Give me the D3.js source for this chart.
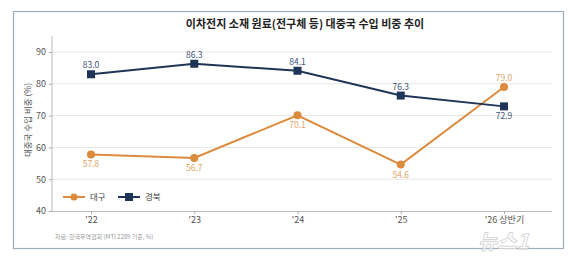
<!DOCTYPE html>
<html>
<head>
<meta charset="utf-8">
<script src="https://cdn.jsdelivr.net/npm/d3@7"></script>
<style>
  body { margin: 0; background: #fff; }
  svg { display: block; font-family: 'Noto Sans CJK KR', 'Noto Sans', sans-serif; }
</style>
</head>
<body>
<div class="chart"></div>
<script>
const years = ["'22", "'23", "'24", "'25", "'26 상반기"];
const daegu = [57.8, 56.7, 70.1, 54.6, 79.0];
const gyeongbuk = [83.0, 86.3, 84.1, 76.3, 72.9];
const yTicks = [40, 50, 60, 70, 80, 90];

const width = 573;
const height = 257;

const svg = d3.select('.chart')
    .append('svg')
    .attr('width', width)
    .attr('height', height);

// frame
svg.append('rect')
    .attr('x', 13.5)
    .attr('y', 11.5)
    .attr('width', 550)
    .attr('height', 237)
    .attr('fill', '#fff')
    .attr('stroke', '#9aabbd')
    .attr('stroke-width', 1.2);

// watermark, drawn first so it sits behind the chart
svg.append('text')
    .attr('x', 478)
    .attr('y', 249)
    .style('font-size', '21px')
    .style('font-weight', 'bold')
    .style('font-style', 'italic')
    .attr('fill', 'rgba(255,255,255,0.6)')
    .attr('stroke', '#cfcfcf')
    .attr('stroke-width', 0.8)
    .text('뉴스1');

svg.append('text')
    .attr('x', 305)
    .attr('y', 28)
    .attr('text-anchor', 'middle')
    .style('font-size', '11px')
    .style('font-weight', 'bold')
    .attr('fill', '#222')
    .text('이차전지 소재 원료(전구체 등) 대중국 수입 비중 추이');

const x = d3.scalePoint()
    .domain(years)
    .range([91, 504]);

const y = d3.scaleLinear()
    .domain([40, 90])
    .range([211, 52]);

// gridlines
svg.append('g')
    .selectAll('line')
    .data(yTicks.slice(1))
    .enter()
    .append('line')
    .attr('x1', 52)
    .attr('x2', 552)
    .attr('y1', d => y(d))
    .attr('y2', d => y(d))
    .attr('stroke', '#e6e6e6')
    .attr('stroke-width', 1);

const yAxis = svg.append('g')
    .attr('transform', 'translate(52,0)')
    .call(d3.axisLeft(y).tickValues(yTicks).tickSize(3).tickPadding(3));
yAxis.select('.domain').remove();
svg.append('line')
    .attr('x1', 52).attr('x2', 52)
    .attr('y1', 36).attr('y2', 211)
    .attr('stroke', '#bbb');

const xAxis = svg.append('g')
    .attr('transform', 'translate(0,211)')
    .call(d3.axisBottom(x).tickSize(3).tickPadding(3));
xAxis.select('.domain').attr('d', 'M52,0.5H552').attr('stroke', '#bbb');

svg.selectAll('.tick line').attr('stroke', '#aaa');
svg.selectAll('.tick text')
    .attr('fill', '#555')
    .style('font-size', '9px')
    .style('font-family', "'Noto Sans CJK KR', sans-serif");

svg.append('text')
    .attr('transform', 'translate(31,120) rotate(-90)')
    .attr('text-anchor', 'middle')
    .style('font-size', '8.5px')
    .attr('fill', '#555')
    .text('대중국 수입 비중 (%)');

const series = [
    { name: '대구', values: daegu, color: '#dc8a3c', label: '#e3a466', shape: 'circle' },
    { name: '경북', values: gyeongbuk, color: '#1e3558', label: '#3d5478', shape: 'square' }
];

const line = d3.line()
    .x((d, i) => x(years[i]))
    .y(d => y(d));

series.forEach((s, si) => {
    svg.append('path')
        .datum(s.values)
        .attr('fill', 'none')
        .attr('stroke', s.color)
        .attr('stroke-width', 2)
        .attr('d', line);

    const g = svg.append('g');
    if (s.shape === 'circle') {
        g.selectAll('circle')
            .data(s.values)
            .enter()
            .append('circle')
            .attr('cx', (d, i) => x(years[i]))
            .attr('cy', d => y(d))
            .attr('r', 4)
            .attr('fill', s.color);
    } else {
        g.selectAll('rect')
            .data(s.values)
            .enter()
            .append('rect')
            .attr('x', (d, i) => x(years[i]) - 4)
            .attr('y', d => y(d) - 4)
            .attr('width', 8)
            .attr('height', 8)
            .attr('fill', s.color);
    }

    svg.append('g')
        .selectAll('text')
        .data(s.values)
        .enter()
        .append('text')
        .attr('x', (d, i) => x(years[i]))
        .attr('y', (d, i) => {
            const last = i === s.values.length - 1;
            const above = (si === 1) !== last;
            return above ? y(d) - 6 : y(d) + 13;
        })
        .attr('text-anchor', 'middle')
        .style('font-size', '8.5px')
        .attr('fill', s.label)
        .text(d => d.toFixed(1));
});

// legend
const legend = svg.append('g').attr('transform', 'translate(0,197)');
[{ s: series[0], x0: 63 }, { s: series[1], x0: 118 }].forEach(({ s, x0 }) => {
    legend.append('line')
        .attr('x1', x0).attr('x2', x0 + 22)
        .attr('stroke', s.color).attr('stroke-width', 2);
    if (s.shape === 'circle') {
        legend.append('circle').attr('cx', x0 + 11).attr('r', 3.5).attr('fill', s.color);
    } else {
        legend.append('rect').attr('x', x0 + 7).attr('y', -4).attr('width', 8).attr('height', 8).attr('fill', s.color);
    }
    legend.append('text')
        .attr('x', x0 + 27)
        .attr('y', 3)
        .style('font-size', '8.5px')
        .attr('fill', '#444')
        .text(s.name);
});

svg.append('text')
    .attr('x', 55)
    .attr('y', 239)
    .style('font-size', '6px')
    .attr('fill', '#999')
    .text('자료: 한국무역협회 (MTI 2289 기준, %)');
</script>
</body>
</html>
